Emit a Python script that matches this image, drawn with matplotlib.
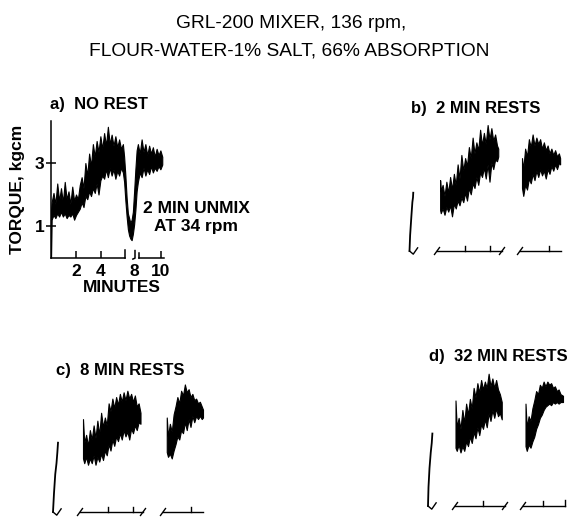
import matplotlib.pyplot as plt
import numpy as np

# figure geometry (pixels) and chart-paper scale shared by all four panels
W, H = 575, 517
SX = 12.5   # px per minute
SY = 31.5   # px per kgcm

FONT = 'Liberation Sans'

# ---- a) NO REST: one continuous trace (dip = 2 min unmix at 34 rpm)
a_t = [0.00, 0.05, 0.20, 0.35, 0.50, 0.65, 0.80, 0.95, 1.10, 1.25, 1.40, 1.55, 1.70, 1.85,
       2.00, 2.15, 2.30, 2.45, 2.60, 2.75, 2.90, 3.05, 3.20, 3.35, 3.50, 3.65, 3.80, 3.95,
       4.10, 4.25, 4.40, 4.55, 4.70, 4.85, 5.00, 5.15, 5.30, 5.45, 5.60, 5.75, 5.85, 5.95,
       6.05, 6.15, 6.25, 6.35, 6.45, 6.55, 6.65, 6.75, 6.85, 6.95, 7.10, 7.25, 7.40, 7.55,
       7.70, 7.85, 8.00, 8.15, 8.30, 8.45, 8.60, 8.75, 8.90]
a_lo = [0.00, 1.20, 1.35, 1.25, 1.40, 1.30, 1.45, 1.30, 1.40, 1.25, 1.35, 1.30, 1.40, 1.20,
        1.35, 1.45, 1.55, 1.75, 1.60, 1.95, 1.85, 2.10, 1.95, 2.20, 2.05, 2.35, 2.00, 2.45,
        2.60, 2.50, 2.80, 2.55, 2.85, 2.60, 2.80, 2.50, 2.75, 2.60, 2.85, 2.70, 2.40, 1.80,
        1.30, 0.90, 0.70, 0.60, 0.55, 0.75, 1.05, 1.50, 2.10, 2.40, 2.70, 2.55, 2.85, 2.60,
        2.80, 2.65, 2.90, 2.70, 2.85, 2.75, 2.90, 2.80, 2.95]
a_hi = [1.50, 1.75, 2.05, 1.70, 2.35, 1.80, 2.20, 1.75, 2.40, 1.85, 2.10, 1.70, 2.25, 1.80,
        2.00, 1.85, 2.30, 2.55, 2.20, 3.00, 2.60, 3.30, 2.90, 3.60, 3.20, 3.70, 3.35, 3.85,
        3.45, 3.95, 3.55, 4.15, 3.60, 3.90, 3.55, 3.85, 3.50, 3.75, 3.45, 3.60, 3.20, 2.60,
        1.90, 1.40, 1.25, 1.10, 1.20, 1.45, 2.10, 2.80, 3.40, 3.60, 3.30, 3.75, 3.35, 3.60,
        3.25, 3.55, 3.30, 3.50, 3.20, 3.45, 3.25, 3.40, 3.20]
a_yticks = [1, 3]
a_xticks = [2, 4, 8.8]
a_xticklabels = ['2', '4', '10']
a_break_tick = 6.7
a_break_label = '8'

# ---- b) 2 MIN RESTS
b_stub_t = [-0.40, -0.35, -0.25, -0.17, -0.12, -0.10]
b_stub_v = [0.00, 0.50, 1.10, 1.55, 1.70, 1.85]
b1_t = [2.05, 2.10, 2.25, 2.40, 2.55, 2.70, 2.85, 3.00, 3.15, 3.30, 3.45, 3.60, 3.75, 3.90,
        4.05, 4.20, 4.35, 4.50, 4.65, 4.80, 4.95, 5.10, 5.25, 5.40, 5.55, 5.70, 5.85, 6.00,
        6.15, 6.30, 6.45, 6.60, 6.70]
b1_lo = [1.30, 1.20, 1.35, 1.15, 1.40, 1.25, 1.45, 1.10, 1.50, 1.35, 1.60, 1.45, 1.70, 1.55,
         1.85, 1.60, 2.00, 1.80, 2.15, 2.00, 2.35, 2.10, 2.50, 2.35, 2.65, 2.30, 2.75, 2.20,
         2.80, 2.60, 2.90, 2.85, 3.00]
b1_hi = [2.25, 1.90, 2.10, 1.75, 2.20, 1.85, 2.35, 1.95, 2.45, 2.10, 2.75, 2.30, 3.05, 2.55,
         2.95, 2.70, 3.30, 2.95, 3.60, 3.10, 3.45, 3.20, 3.85, 3.35, 3.75, 3.40, 4.00, 3.55,
         3.90, 3.50, 3.70, 3.35, 3.25]
b2_t = [8.60, 8.70, 8.85, 9.00, 9.15, 9.30, 9.45, 9.60, 9.75, 9.90, 10.05, 10.20, 10.35,
        10.50, 10.65, 10.80, 10.95, 11.10, 11.25, 11.40, 11.55, 11.65]
b2_lo = [2.00, 1.75, 2.10, 1.95, 2.30, 2.15, 2.45, 2.25, 2.55, 2.35, 2.60, 2.40, 2.55,
         2.30, 2.60, 2.45, 2.70, 2.55, 2.75, 2.60, 2.80, 2.75]
b2_hi = [2.95, 2.60, 3.25, 3.00, 3.55, 3.30, 3.70, 3.35, 3.60, 3.40, 3.55, 3.25, 3.45,
         3.20, 3.35, 3.10, 3.25, 3.05, 3.20, 3.00, 3.10, 2.95]
b_segs = [(1.80, 7.00, '/', '/'), (8.44, 11.72, '/', '')]
b_ticks = [4, 6, 10.76]

# ---- c) 8 MIN RESTS
c_stub_t = [-0.40, -0.32, -0.22, -0.12, -0.05, 0.00]
c_stub_v = [0.00, 0.60, 1.20, 1.55, 1.90, 2.20]
c1_t = [2.00, 2.10, 2.25, 2.40, 2.55, 2.70, 2.85, 3.00, 3.15, 3.30, 3.45, 3.60, 3.75, 3.90,
        4.05, 4.20, 4.35, 4.50, 4.65, 4.80, 4.95, 5.10, 5.25, 5.40, 5.55, 5.70, 5.85, 6.00,
        6.15, 6.30, 6.45, 6.60]
c1_lo = [1.70, 1.55, 1.75, 1.50, 1.70, 1.55, 1.80, 1.50, 1.75, 1.60, 1.85, 1.65, 1.95, 1.80,
         2.15, 1.95, 2.30, 2.10, 2.40, 2.25, 2.50, 2.30, 2.60, 2.40, 2.55, 2.30, 2.65, 2.50,
         2.75, 2.60, 2.85, 2.80]
c1_hi = [2.95, 2.20, 2.45, 2.10, 2.60, 2.30, 2.75, 2.35, 2.90, 2.45, 3.15, 2.70, 3.00, 2.75,
         3.45, 3.20, 3.60, 3.30, 3.65, 3.40, 3.75, 3.50, 3.80, 3.55, 3.85, 3.60, 3.75, 3.50,
         3.70, 3.35, 3.45, 3.15]
c2_t = [8.70, 8.80, 8.95, 9.10, 9.25, 9.40, 9.55, 9.70, 9.85, 10.00, 10.15, 10.30, 10.45,
        10.60, 10.75, 10.90, 11.05, 11.20, 11.35, 11.50, 11.60]
c2_lo = [1.90, 1.75, 1.85, 1.70, 1.95, 2.15, 2.40, 2.30, 2.60, 2.50, 2.85, 2.60, 2.95,
         2.70, 3.05, 2.85, 3.05, 2.95, 3.05, 2.95, 3.00]
c2_hi = [3.00, 2.40, 2.80, 2.55, 3.10, 3.35, 3.65, 3.45, 3.85, 3.70, 4.05, 3.80, 3.90,
         3.65, 3.75, 3.55, 3.60, 3.45, 3.50, 3.35, 3.25]
c_segs = [(1.76, 6.80, '/', '/'), (8.40, 11.60, '/', '')]
c_ticks = [4, 6, 10.64]

# ---- d) 32 MIN RESTS
d_stub_t = [-0.40, -0.36, -0.28, -0.18, -0.10, -0.05]
d_stub_v = [0.00, 0.60, 1.20, 1.70, 2.00, 2.30]
d1_t = [1.80, 1.90, 2.05, 2.20, 2.35, 2.50, 2.65, 2.80, 2.95, 3.10, 3.25, 3.40, 3.55, 3.70,
        3.85, 4.00, 4.15, 4.30, 4.45, 4.60, 4.75, 4.90, 5.05, 5.20, 5.35, 5.50]
d1_lo = [1.85, 1.75, 1.95, 1.70, 1.90, 1.75, 2.05, 1.90, 2.20, 2.00, 2.35, 2.15, 2.50, 2.25,
         2.60, 2.45, 2.75, 2.50, 2.95, 2.70, 3.05, 2.80, 3.10, 2.85, 2.95, 2.75]
d1_hi = [3.35, 2.50, 2.80, 2.45, 3.05, 2.65, 3.25, 2.90, 3.40, 3.10, 3.75, 3.45, 3.90, 3.60,
         4.00, 3.70, 3.95, 3.75, 4.20, 3.80, 4.05, 3.75, 4.00, 3.70, 3.55, 3.30]
d2_t = [7.40, 7.50, 7.65, 7.80, 7.95, 8.10, 8.25, 8.40, 8.55, 8.70, 8.85, 9.00, 9.15, 9.30,
        9.45, 9.60, 9.75, 9.90, 10.05, 10.20, 10.40]
d2_lo = [1.90, 1.75, 1.95, 1.85, 2.05, 2.20, 2.45, 2.60, 2.80, 2.90, 3.05, 3.15, 3.20, 3.25,
         3.20, 3.30, 3.25, 3.30, 3.25, 3.30, 3.30]
d2_hi = [3.25, 2.50, 2.85, 2.70, 3.10, 3.35, 3.65, 3.55, 3.85, 3.75, 3.95, 3.80, 3.95, 3.85,
         3.90, 3.75, 3.80, 3.65, 3.70, 3.55, 3.50]
d_segs = [(1.76, 5.76, '/', '/'), (7.20, 10.56, '/', '|')]
d_ticks = [4, 8.8]


fig = plt.figure(figsize=(W / 100, H / 100), dpi=100)


def add_panel(x0, y0, xlim, ylim):
    # place an axes so that data (0, 0) lands on pixel (x0, y0) with the shared scale
    rect = [(x0 + xlim[0] * SX) / W, (H - y0 + ylim[0] * SY) / H,
            (xlim[1] - xlim[0]) * SX / W, (ylim[1] - ylim[0]) * SY / H]
    ax = fig.add_axes(rect)
    ax.set_xlim(xlim)
    ax.set_ylim(ylim)
    return ax


def trace(ax, t, lo, hi):
    ax.fill_between(t, lo, hi, color='black', lw=0.8, clip_on=False)


def end_mark(ax, x, kind):
    if kind == '/':
        ax.plot([x - 0.2, x + 0.2], [-0.11, 0.11], color='black', lw=1.0, clip_on=False)
    elif kind == '|':
        ax.plot([x, x], [0, 0.2], color='black', lw=1.0, clip_on=False)


def chart_axis(ax, segs, ticks, stub_t, stub_v):
    ax.plot(stub_t, stub_v, color='black', lw=1.3, clip_on=False)
    s0 = stub_t[0]
    ax.plot([s0, s0 + 0.3, s0 + 0.65], [0, -0.1, 0.1], color='black', lw=1.0, clip_on=False)
    for x1, x2, m1, m2 in segs:
        ax.plot([x1, x2], [0, 0], color='black', lw=1.0, clip_on=False)
        end_mark(ax, x1, m1)
        end_mark(ax, x2, m2)
    for x in ticks:
        ax.plot([x, x], [0, 0.15], color='black', lw=1.0, clip_on=False)
    ax.axis('off')


# ---------- panel a
ax = add_panel(51, 257.5, (0, 9.4), (0, 4.33))
trace(ax, a_t, a_lo, a_hi)
for s in ['top', 'right', 'bottom']:
    ax.spines[s].set_visible(False)
ax.spines['left'].set_linewidth(1.1)
ax.plot([0, 5.9], [0, 0], color='black', lw=1.1, clip_on=False)
ax.plot([5.9, 5.9], [0, 0.24], color='black', lw=1.1, clip_on=False)
ax.plot([6.55, 6.72, 6.72], [-0.05, -0.02, 0.22], color='black', lw=1.1, clip_on=False)
ax.plot([7.0, 9.0], [0, 0], color='black', lw=1.1, clip_on=False)
ax.plot([7.0, 7.0], [0, 0.15], color='black', lw=1.1, clip_on=False)
lkw = dict(fontsize=12.5, fontweight='bold', family=FONT)
ax.set_yticks(a_yticks)
ax.set_yticklabels([str(v) for v in a_yticks], **lkw)
ax.tick_params(axis='y', direction='inout', length=7, width=1.1, pad=1)
ax.set_xticks(a_xticks)
ax.set_xticklabels(a_xticklabels, **lkw)
ax.set_xticks([a_break_tick], [a_break_label], minor=True, **lkw)
ax.tick_params(axis='x', which='major', direction='in', length=5, width=1.1, pad=5)
ax.tick_params(axis='x', which='minor', length=0, pad=5)
ax.text(5.7, -0.94, 'MINUTES', ha='center', va='center', **lkw)
ax.set_ylabel('TORQUE, kgcm', labelpad=7, **lkw)
ax.text(11.6, 1.57, '2 MIN UNMIX', ha='center', va='center', **lkw)
ax.text(11.6, 1.0, 'AT 34 rpm', ha='center', va='center', **lkw)

# ---------- panel b
ax = add_panel(414.5, 251, (-0.6, 12.2), (-0.3, 4.4))
trace(ax, b1_t, b1_lo, b1_hi)
trace(ax, b2_t, b2_lo, b2_hi)
chart_axis(ax, b_segs, b_ticks, b_stub_t, b_stub_v)

# ---------- panel c
ax = add_panel(58, 512, (-0.6, 12.2), (-0.3, 4.4))
trace(ax, c1_t, c1_lo, c1_hi)
trace(ax, c2_t, c2_lo, c2_hi)
chart_axis(ax, c_segs, c_ticks, c_stub_t, c_stub_v)

# ---------- panel d
ax = add_panel(433, 506, (-0.6, 12.2), (-0.3, 4.4))
trace(ax, d1_t, d1_lo, d1_hi)
trace(ax, d2_t, d2_lo, d2_hi)
chart_axis(ax, d_segs, d_ticks, d_stub_t, d_stub_v)

# ---------- titles
tkw = dict(fontsize=13.8, family=FONT, ha='center', va='center')
fig.text(291 / W, 1 - 23 / H, 'GRL-200 MIXER, 136 rpm,', **tkw)
fig.text(289 / W, 1 - 51 / H, 'FLOUR-WATER-1% SALT, 66% ABSORPTION', **tkw)

pkw = dict(fontsize=12, fontweight='bold', family=FONT, ha='left', va='center')
fig.text(50 / W, 1 - 105 / H, 'a)  NO REST', **pkw)
fig.text(411 / W, 1 - 109 / H, 'b)  2 MIN RESTS', **pkw)
fig.text(56 / W, 1 - 370 / H, 'c)  8 MIN RESTS', **pkw)
fig.text(429 / W, 1 - 357 / H, 'd)  32 MIN RESTS', **pkw)

fig.savefig('out.png', dpi=100, facecolor='white')
